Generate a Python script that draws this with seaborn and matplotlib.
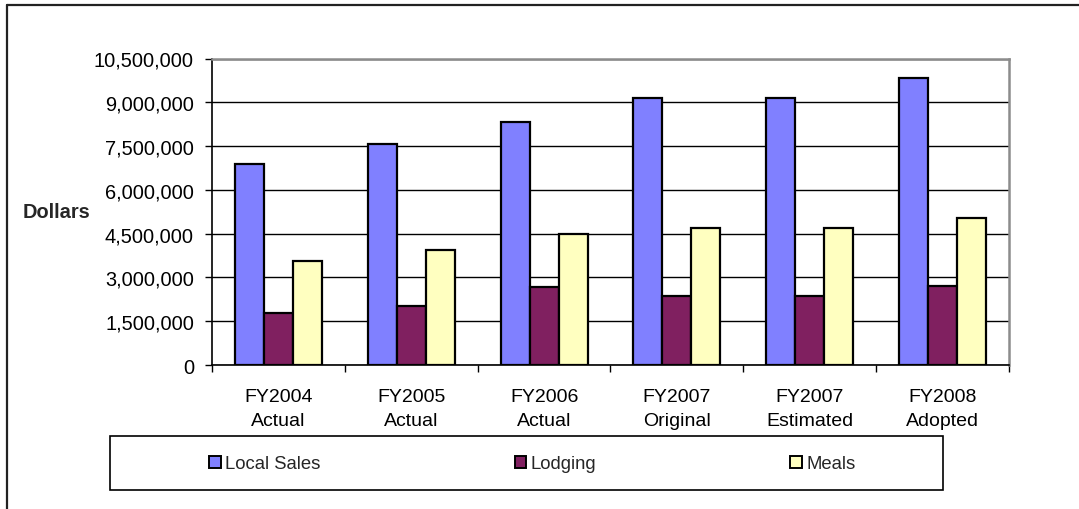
import matplotlib
matplotlib.use("Agg")
import matplotlib.pyplot as plt
from matplotlib.patches import Patch, Rectangle
from matplotlib.lines import Line2D
from matplotlib.ticker import FuncFormatter, MultipleLocator, FixedLocator
import seaborn as sns
import pandas as pd

# Revenue by fiscal year (dollars)
periods = ["FY2004\nActual", "FY2005\nActual", "FY2006\nActual",
           "FY2007\nOriginal", "FY2007\nEstimated", "FY2008\nAdopted"]
series_names = ["Local Sales", "Lodging", "Meals"]
local_sales = [6900000, 7560000, 8310000, 9130000, 9130000, 9830000]
lodging = [1770000, 2030000, 2680000, 2350000, 2350000, 2700000]
meals = [3550000, 3940000, 4500000, 4690000, 4690000, 5040000]
colors = ["#8080FF", "#802060", "#FFFFC0"]

df = pd.DataFrame({
    "period": periods * 3,
    "series": [s for s in series_names for _ in periods],
    "value": local_sales + lodging + meals,
})

sns.set_style("white")
plt.rcParams["font.family"] = ["Liberation Sans", "DejaVu Sans"]

W, H = 1079, 510
fig = plt.figure(figsize=(W / 100, H / 100), dpi=100)
ax = fig.add_axes([212 / W, 1 - 366 / H, (1009 - 212) / W, (366 - 59.5) / H])

sns.barplot(data=df, x="period", y="value", hue="series", order=periods,
            hue_order=series_names, palette=colors, width=0.655, gap=0,
            edgecolor="black", linewidth=1.6, saturation=1, legend=False, ax=ax)

ax.set_xlim(-0.5, len(periods) - 0.5)
ax.set_ylim(0, 10500000)
ax.yaxis.set_major_locator(MultipleLocator(1500000))
ax.yaxis.set_major_formatter(FuncFormatter(lambda v, p: f"{int(v):,}"))
ax.grid(axis="y", color="black", linewidth=1.0)
ax.grid(axis="x", visible=False)
ax.set_axisbelow(True)
ax.set_xlabel("")
ax.set_ylabel("")

for side in ("left", "bottom"):
    ax.spines[side].set_color("black")
    ax.spines[side].set_linewidth(1.2)
for side in ("top", "right"):
    ax.spines[side].set_visible(True)
    ax.spines[side].set_color("#8c8c8c")
    ax.spines[side].set_linewidth(1.8)

ax.xaxis.set_minor_locator(FixedLocator([i - 0.5 for i in range(len(periods) + 1)]))
ax.tick_params(axis="x", which="major", length=0, pad=16.5, labelsize=14,
               colors="black")
ax.tick_params(axis="x", which="minor", length=5, width=1, color="black",
               direction="out", bottom=True)
ax.tick_params(axis="y", which="major", length=5, width=1, color="black",
               direction="out", left=True, pad=8, labelsize=14.4,
               labelcolor="black")
for lbl in ax.get_xticklabels():
    lbl.set_linespacing(1.55)

fig.text(23 / W, 1 - 213 / H, "Dollars", fontsize=14.4, fontweight="bold",
         ha="left", va="center")

# Legend box
fig.patches.append(Rectangle((110 / W, 1 - 491 / H), (943 - 110) / W,
                             (491 - 437) / H, transform=fig.transFigure,
                             facecolor="white", edgecolor="black",
                             linewidth=1.2, zorder=1))
handles = [Patch(facecolor=c, edgecolor="black", linewidth=1.4) for c in colors]
fig.legend(handles, series_names, loc="center",
           bbox_to_anchor=((110 + 943) / 2 / W + 6 / W, 1 - 465 / H),
           bbox_transform=fig.transFigure, ncol=3, frameon=False,
           fontsize=13.3, handlelength=0.62, handleheight=0.62,
           handletextpad=0.25, columnspacing=10.5)

# Outer chart frame
fig.lines.append(Line2D([7 / W, 1.0], [1 - 6 / H, 1 - 6 / H],
                        transform=fig.transFigure, color="#222222", linewidth=1.6))
fig.lines.append(Line2D([7 / W, 7 / W], [0.0, 1 - 6 / H],
                        transform=fig.transFigure, color="#222222", linewidth=1.6))

fig.savefig("out.png", dpi=100, facecolor="white")
